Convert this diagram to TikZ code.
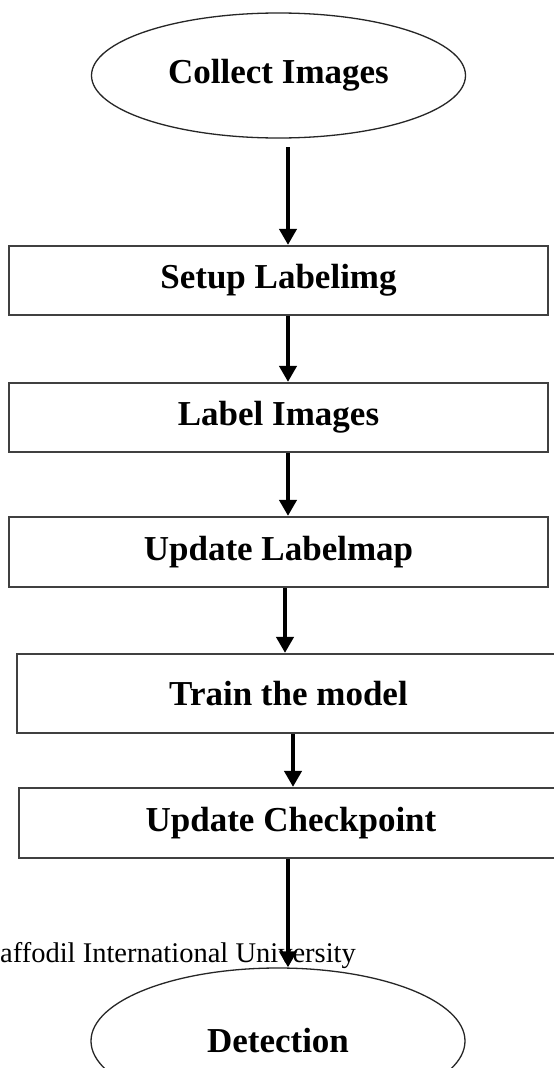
\documentclass[tikz,border=0pt]{standalone}
\usepackage{fontspec}
\setmainfont{Liberation Serif}
\usetikzlibrary{shapes.geometric,arrows.meta}
\tikzset{
  stepbox/.style={draw=black!75, line width=2.2pt, rectangle, inner sep=0pt,
    font=\fontsize{35}{41}\selectfont\bfseries},
  oval/.style={draw=black!85, line width=1.3pt, ellipse, inner sep=0pt,
    minimum width=374pt, font=\fontsize{35}{41}\selectfont\bfseries},
  flow/.style={line width=4.5pt, -{Triangle[length=16pt,width=17pt]}},
}
\begin{document}
\begin{tikzpicture}[x=1pt,y=-1pt]
\useasboundingbox (0,0) rectangle (554,1068);
\fill[white] (0,0) rectangle (554,1068);
% nodes
\node[oval, minimum height=125pt] (collect) at (278.5,75.5) {Collect Images};
\node[stepbox, minimum width=539pt, minimum height=69pt] (setup) at (278.5,280.5) {Setup Labelimg};
\node[stepbox, minimum width=539pt, minimum height=69pt] (label) at (278.5,417.5) {Label Images};
\node[stepbox, minimum width=539pt, minimum height=70pt] (lmap) at (278.5,552) {Update Labelmap};
\node[stepbox, minimum width=543pt, minimum height=79pt] (train) at (288.5,693.5) {Train the model};
\node[stepbox, minimum width=544pt, minimum height=70pt] (ckpt) at (291,823) {Update Checkpoint};
\node[oval, minimum height=146pt] (detect) at (278,1041) {Detection};
% footer text
\node[anchor=base west, inner sep=0pt, font=\fontsize{28.5}{34}\selectfont] (uni) at (0,962) {affodil International University};
% arrow positions
\coordinate (a1) at (288,147);
\coordinate (a2) at (288,0);
\coordinate (a3) at (288,0);
\coordinate (a4) at (285,0);
\coordinate (a5) at (293,0);
\coordinate (a6) at (288,0);
% connectors
\draw[flow] (a1) -- (setup.north -| a1);
\draw[flow] (setup.south -| a2) -- (label.north -| a2);
\draw[flow] (label.south -| a3) -- (lmap.north -| a3);
\draw[flow] (lmap.south -| a4) -- (train.north -| a4);
\draw[flow] (train.south -| a5) -- (ckpt.north -| a5);
\draw[flow] (ckpt.south -| a6) -- (detect.north -| a6);
\end{tikzpicture}
\end{document}
